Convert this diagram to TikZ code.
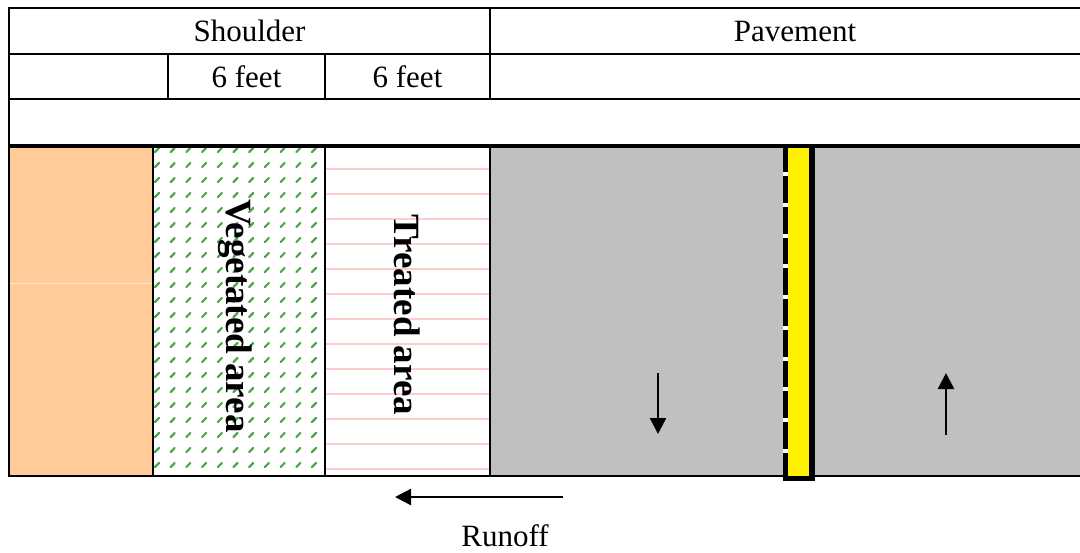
\documentclass[tikz,border=0pt]{standalone}
\usepackage{fontspec}
\setmainfont{Liberation Serif}
\usetikzlibrary{arrows.meta}
\definecolor{shoulderorange}{HTML}{FFCC99}
\definecolor{pavegray}{HTML}{C0C0C0}
\definecolor{grassgreen}{HTML}{4CA64C}
\definecolor{treatpink}{HTML}{FFCCCC}
\tikzstyle{gridline}=[line width=1.25pt]
\tikzstyle{headtext}=[font=\fontsize{15.5}{18}\selectfont, inner sep=0pt]
\tikzstyle{areatext}=[font=\fontsize{18.5}{22}\selectfont\bfseries, rotate=-90, inner sep=0pt]
\tikzstyle{flow}=[-{Triangle[length=8pt,width=8pt]}, line width=1.2pt]

\begin{document}
\begin{tikzpicture}[x=0.5pt, y=-0.5pt]
        \useasboundingbox (0,0) rectangle (1080,552);

        % ground fills
        \fill[shoulderorange] (10,147) rectangle (153,475);
        \draw[white!55!shoulderorange, line width=0.5pt] (10,283) -- (153,283);
        \fill[pavegray] (490,147) rectangle (1080,475);

        % treated area lines
        \foreach \y in {169,194,...,469}
            \draw[treatpink, line width=1pt] (326,\y) -- (489,\y);

        % vegetated area pattern
        \foreach \i in {0,...,10}
            \foreach \y in {150,165,...,472}
                \draw[grassgreen, line width=1.1pt, line cap=round]
                    ({157+15.7*\i-2},\y+2) -- ({157+15.7*\i+2},\y-2);

        % table
        \draw[gridline] (1080,8) -- (9,8) -- (9,476) -- (1080,476);
        \draw[gridline] (9,54) -- (1080,54);
        \draw[gridline] (9,99) -- (1080,99);
        \draw[line width=2pt] (9,145.5) -- (1080,145.5);
        \draw[gridline] (490,8) -- (490,99);
        \draw[gridline] (168,54) -- (168,99);
        \draw[gridline] (325,54) -- (325,99);
        \draw[gridline] (153,146) -- (153,476);
        \draw[gridline] (325,146) -- (325,476);
        \draw[gridline] (490,146) -- (490,476);

        % centre line
        \fill (783,145) rectangle (815,481);
        \fill[yellow] (788,148) rectangle (809,476);
        \foreach \k in {0,...,9}
            \fill[white] (783,{172+30.75*\k}) rectangle (788,{176+30.75*\k});

        % headings
        \node[headtext] (shoulder) at (249.5,31) {Shoulder};
        \node[headtext] (pavement) at (795,31) {Pavement};
        \node[headtext] (feetA) at (246.5,76.5) {6 feet};
        \node[headtext] (feetB) at (407.5,76.5) {6 feet};

        % areas
        \node[areatext] (vegetated) at (235.5,316) {Vegetated area};
        \node[areatext] (treated) at (407.5,315) {Treated area};

        % traffic
        \coordinate (downtail) at (658,373);
        \coordinate (downtip) at (658,434);
        \coordinate (uptail) at (946,435);
        \coordinate (uptip) at (946,373);
        \draw[flow] (downtail) -- (downtip);
        \draw[flow] (uptail) -- (uptip);

        % runoff
        \node[headtext] (runoff) at (505,536) {Runoff};
        \coordinate (runtail) at (563,497);
        \coordinate (runtip) at (395,497);
        \draw[flow] (runtail) -- (runtip);
\end{tikzpicture}
\end{document}
